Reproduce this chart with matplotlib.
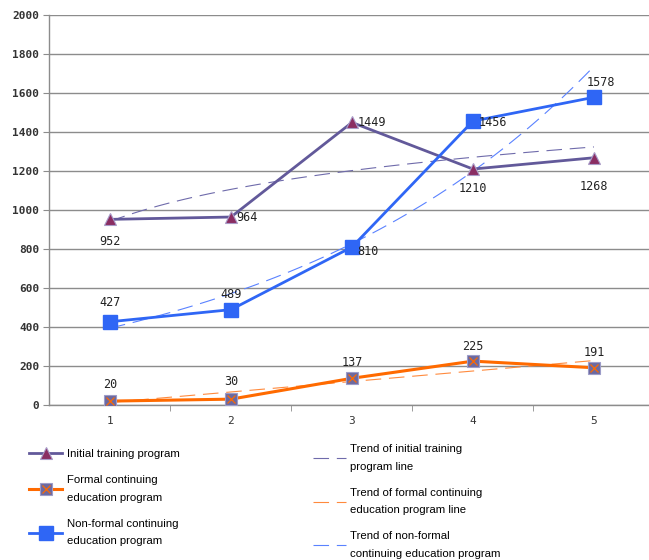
import numpy as np
import matplotlib
matplotlib.use("Agg")
import matplotlib.pyplot as plt
from matplotlib.lines import Line2D
from matplotlib.legend_handler import HandlerTuple

# Program enrolment by period
periods = [1, 2, 3, 4, 5]
initial_training = [952, 964, 1449, 1210, 1268]
formal_continuing = [20, 30, 137, 225, 191]
nonformal_continuing = [427, 489, 810, 1456, 1578]

y_ticks = [0, 200, 400, 600, 800, 1000, 1200, 1400, 1600, 1800, 2000]

labels_series = [
    "Initial training program",
    "Formal continuing\neducation program",
    "Non-formal continuing\neducation program",
]
labels_trend = [
    "Trend of initial training\nprogram line",
    "Trend of formal continuing\neducation program line",
    "Trend of non-formal\ncontinuing education program",
]

C_INIT = "#62599a"
C_INIT_MK = "#8a2d62"
C_FORMAL = "#ff6a00"
C_FORMAL_MK = "#6c69a0"
C_NONF = "#2f66f5"
C_T_INIT = "#6f6bab"
C_T_FORMAL = "#ff8a3d"
C_T_NONF = "#5a82ff"

x = np.array(periods, dtype=float)

# Trend fits: logarithmic, linear and exponential
b_log, a_log = np.polyfit(np.log(x), initial_training, 1)
b_lin, a_lin = np.polyfit(x, formal_continuing, 1)
b_exp, a_exp = np.polyfit(x, np.log(nonformal_continuing), 1)
xs = np.linspace(1, 5, 60)
trend_init_s = a_log + b_log * np.log(xs)
trend_formal_s = a_lin + b_lin * xs
trend_nonf = np.exp(a_exp + b_exp * xs)

fig = plt.figure(figsize=(6.49, 5.60), dpi=100)
W, H = 649, 560
ax = fig.add_axes([49 / W, 1 - 405 / H, 600 / W, 390 / H])

ax.set_xlim(0.496, 5.455)
ax.set_ylim(0, 2000)
ax.set_yticks(y_ticks)
ax.grid(axis="y", color="#8c8c8c", lw=1.0)
ax.set_axisbelow(True)
for s in ("top", "right"):
    ax.spines[s].set_visible(False)
for s in ("left", "bottom"):
    ax.spines[s].set_color("#8c8c8c")
    ax.spines[s].set_linewidth(1.0)

ax.set_xticks(periods)
ax.set_xticks([1.5, 2.5, 3.5, 4.5], minor=True)
ax.tick_params(axis="x", which="major", length=0, pad=8)
ax.tick_params(axis="x", which="minor", length=4, color="#8c8c8c")
ax.tick_params(axis="y", length=4, color="#8c8c8c", pad=3)
mono = "DejaVu Sans Mono"
for lab in ax.get_yticklabels():
    lab.set_fontfamily(mono)
    lab.set_fontsize(8)
    lab.set_fontweight("bold")
    lab.set_color("#333333")
for lab in ax.get_xticklabels():
    lab.set_fontfamily(mono)
    lab.set_fontsize(8)
    lab.set_color("#333333")

dash = (0, (14, 7))
tl_init, = ax.plot(xs, trend_init_s, color=C_T_INIT, lw=0.8, ls=dash, zorder=2)
tl_formal, = ax.plot(xs, trend_formal_s, color=C_T_FORMAL, lw=0.8, ls=dash, zorder=2)
tl_nonf, = ax.plot(xs, trend_nonf, color=C_T_NONF, lw=0.8, ls=dash, zorder=2)

l_init, = ax.plot(x, initial_training, color=C_INIT, lw=2.0, marker="^", ms=8,
                  mfc=C_INIT_MK, mec="#a99cc8", mew=0.8, zorder=4)
l_formal, = ax.plot(x, formal_continuing, color=C_FORMAL, lw=2.2, marker="s", ms=9,
                    mfc=C_FORMAL_MK, mec="#9c9cc8", mew=0.8, zorder=4)
ax.plot(x, formal_continuing, ls="none", marker="x", ms=6, mec=C_FORMAL, mew=0.9, zorder=5)
l_nonf, = ax.plot(x, nonformal_continuing, color=C_NONF, lw=2.0, marker="s", ms=10,
                  mfc=C_NONF, mec=C_NONF, zorder=4)

lab_kw = dict(fontfamily=mono, fontsize=8.5, color="#222222", zorder=6)
# value labels: offsets in points (dx, dy, ha, va)
init_pos = [(0, -11, "center", "top"), (4, 0, "left", "center"), (4, 0, "left", "center"),
            (0, -9, "center", "top"), (0, -16, "center", "top")]
formal_pos = [(0, 7, "center", "bottom"), (0, 8, "center", "bottom"), (0, 7, "center", "bottom"),
              (0, 6, "center", "bottom"), (0, 6, "center", "bottom")]
nonf_pos = [(0, 9, "center", "bottom"), (0, 6, "center", "bottom"), (4, -3, "left", "center"),
            (4, -1, "left", "center"), (5, 6, "center", "bottom")]
for series, pos in ((initial_training, init_pos), (formal_continuing, formal_pos),
                    (nonformal_continuing, nonf_pos)):
    for xi, v, (dx, dy, ha, va) in zip(periods, series, pos):
        ax.annotate(str(v), (xi, v), xytext=(dx, dy), textcoords="offset points",
                    ha=ha, va=va, **lab_kw)

h_formal = (l_formal, Line2D([], [], ls="none", marker="x", ms=6, mec=C_FORMAL, mew=0.9))
leg_font = dict(family="Liberation Sans", size=8.2)
leg1 = fig.legend([l_init, h_formal, l_nonf], labels_series,
                  loc="upper left", bbox_to_anchor=(19 / W, 1 - 439 / H),
                  frameon=False, prop=leg_font, handlelength=2.9, handletextpad=0.4,
                  labelspacing=1.4, numpoints=1,
                  handler_map={tuple: HandlerTuple(ndivide=1, pad=0)})
for t in leg1.get_texts():
    t.set_linespacing(1.95)
leg2 = fig.legend([tl_init, tl_formal, tl_nonf], labels_trend,
                  loc="upper left", bbox_to_anchor=(303 / W, 1 - 434 / H),
                  frameon=False, prop=leg_font, handlelength=2.9, handletextpad=0.35,
                  labelspacing=1.4)
for t in leg2.get_texts():
    t.set_linespacing(1.95)

fig.savefig("out.png", dpi=100)
